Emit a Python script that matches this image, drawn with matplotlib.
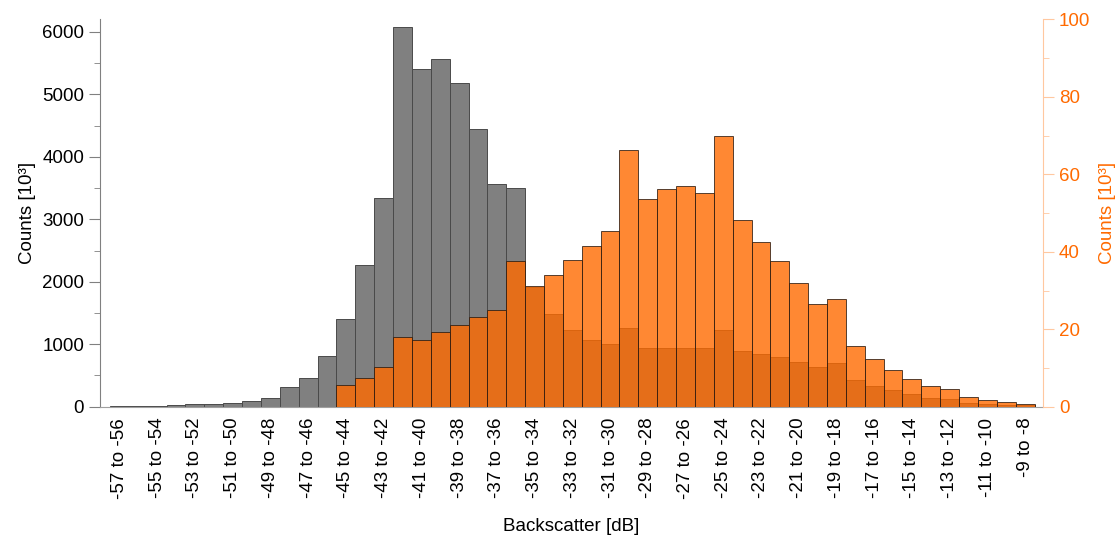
import numpy as np
import matplotlib.pyplot as plt

plt.rcParams['font.family'] = ['Liberation Sans', 'DejaVu Sans']

# 1 dB bins from -57 to -8
bin_low = list(range(-57, -8))
bin_labels = [f"{b} to {b + 1}" for b in bin_low]

# counts in thousands, grey series (left axis)
counts_grey = [8, 10, 15, 20, 37, 43, 59, 91, 133, 320, 464, 811, 1404, 2268,
               3341, 6085, 5407, 5562, 5188, 4452, 3571, 3497, 1920, 1484, 1223,
               1073, 1004, 1265, 945, 945, 945, 940, 1223, 892, 849, 790, 715,
               635, 699, 427, 336, 267, 203, 144, 123, 59, 43, 30, 20]

# counts in thousands, orange series (right axis)
counts_orange = [0, 0, 0, 0, 0, 0, 0, 0, 0, 0, 0, 0, 5.6, 7.3, 10.3, 18.1,
                 17.2, 19.3, 21.1, 23.2, 25.1, 37.6, 31.2, 34.1, 37.9, 41.5,
                 45.3, 66.4, 53.6, 56.1, 56.9, 55.3, 70.0, 48.1, 42.6, 37.6,
                 31.9, 26.4, 27.9, 15.7, 12.4, 9.6, 7.2, 5.3, 4.7, 2.4, 1.7,
                 1.1, 0.7]

grey = '#808080'
orange = '#FF6A00'
peach = '#FFC8A0'
fs = 13.5

fig = plt.figure(figsize=(11.2, 5.35), dpi=100)
ax = fig.add_axes([0.0893, 0.2398, 0.8420, 0.7238])
ax2 = ax.twinx()

x = np.arange(len(bin_labels))
ax.bar(x, counts_grey, width=1.0, color=grey, edgecolor='#4a4a4a', linewidth=0.7)

o = np.array(counts_orange, dtype=float)
m = o > 0
ax2.bar(x[m], o[m], width=1.0, color=orange, alpha=0.8,
        edgecolor='#2a1a10', linewidth=0.7)

ax.set_xlim(-1.03, 48.95)
ax.set_ylim(0, 6200)
ax2.set_ylim(0, 100)

ax.set_xticks(x[::2])
ax.set_xticklabels(bin_labels[::2], rotation=90, fontsize=fs)
ax.tick_params(axis='x', length=0, pad=8)

ax.set_yticks(range(0, 6001, 1000))
ax.set_yticks(range(500, 6001, 1000), minor=True)
ax.tick_params(axis='y', which='major', length=8, color=grey, labelsize=fs)
ax.tick_params(axis='y', which='minor', length=4, color=grey)

ax2.set_yticks(range(0, 101, 20))
ax2.set_yticks(range(10, 100, 20), minor=True)
ax2.tick_params(axis='y', which='major', length=8, color=peach,
                labelcolor=orange, labelsize=fs)
ax2.tick_params(axis='y', which='minor', length=4, color=peach)

for s in ['top', 'right']:
    ax.spines[s].set_visible(False)
ax.spines['left'].set_color(grey)
ax.spines['bottom'].set_color('#a0a0a0')
ax2.spines['top'].set_visible(False)
ax2.spines['left'].set_visible(False)
ax2.spines['bottom'].set_visible(False)
ax2.spines['right'].set_color(peach)

ax.set_ylabel('Counts [10³]', fontsize=fs, labelpad=4)
ax2.set_ylabel('Counts [10³]', fontsize=fs, color=orange, labelpad=6)
ax.set_xlabel('Backscatter [dB]', fontsize=fs, labelpad=14)

fig.savefig('out.png', dpi=100)
